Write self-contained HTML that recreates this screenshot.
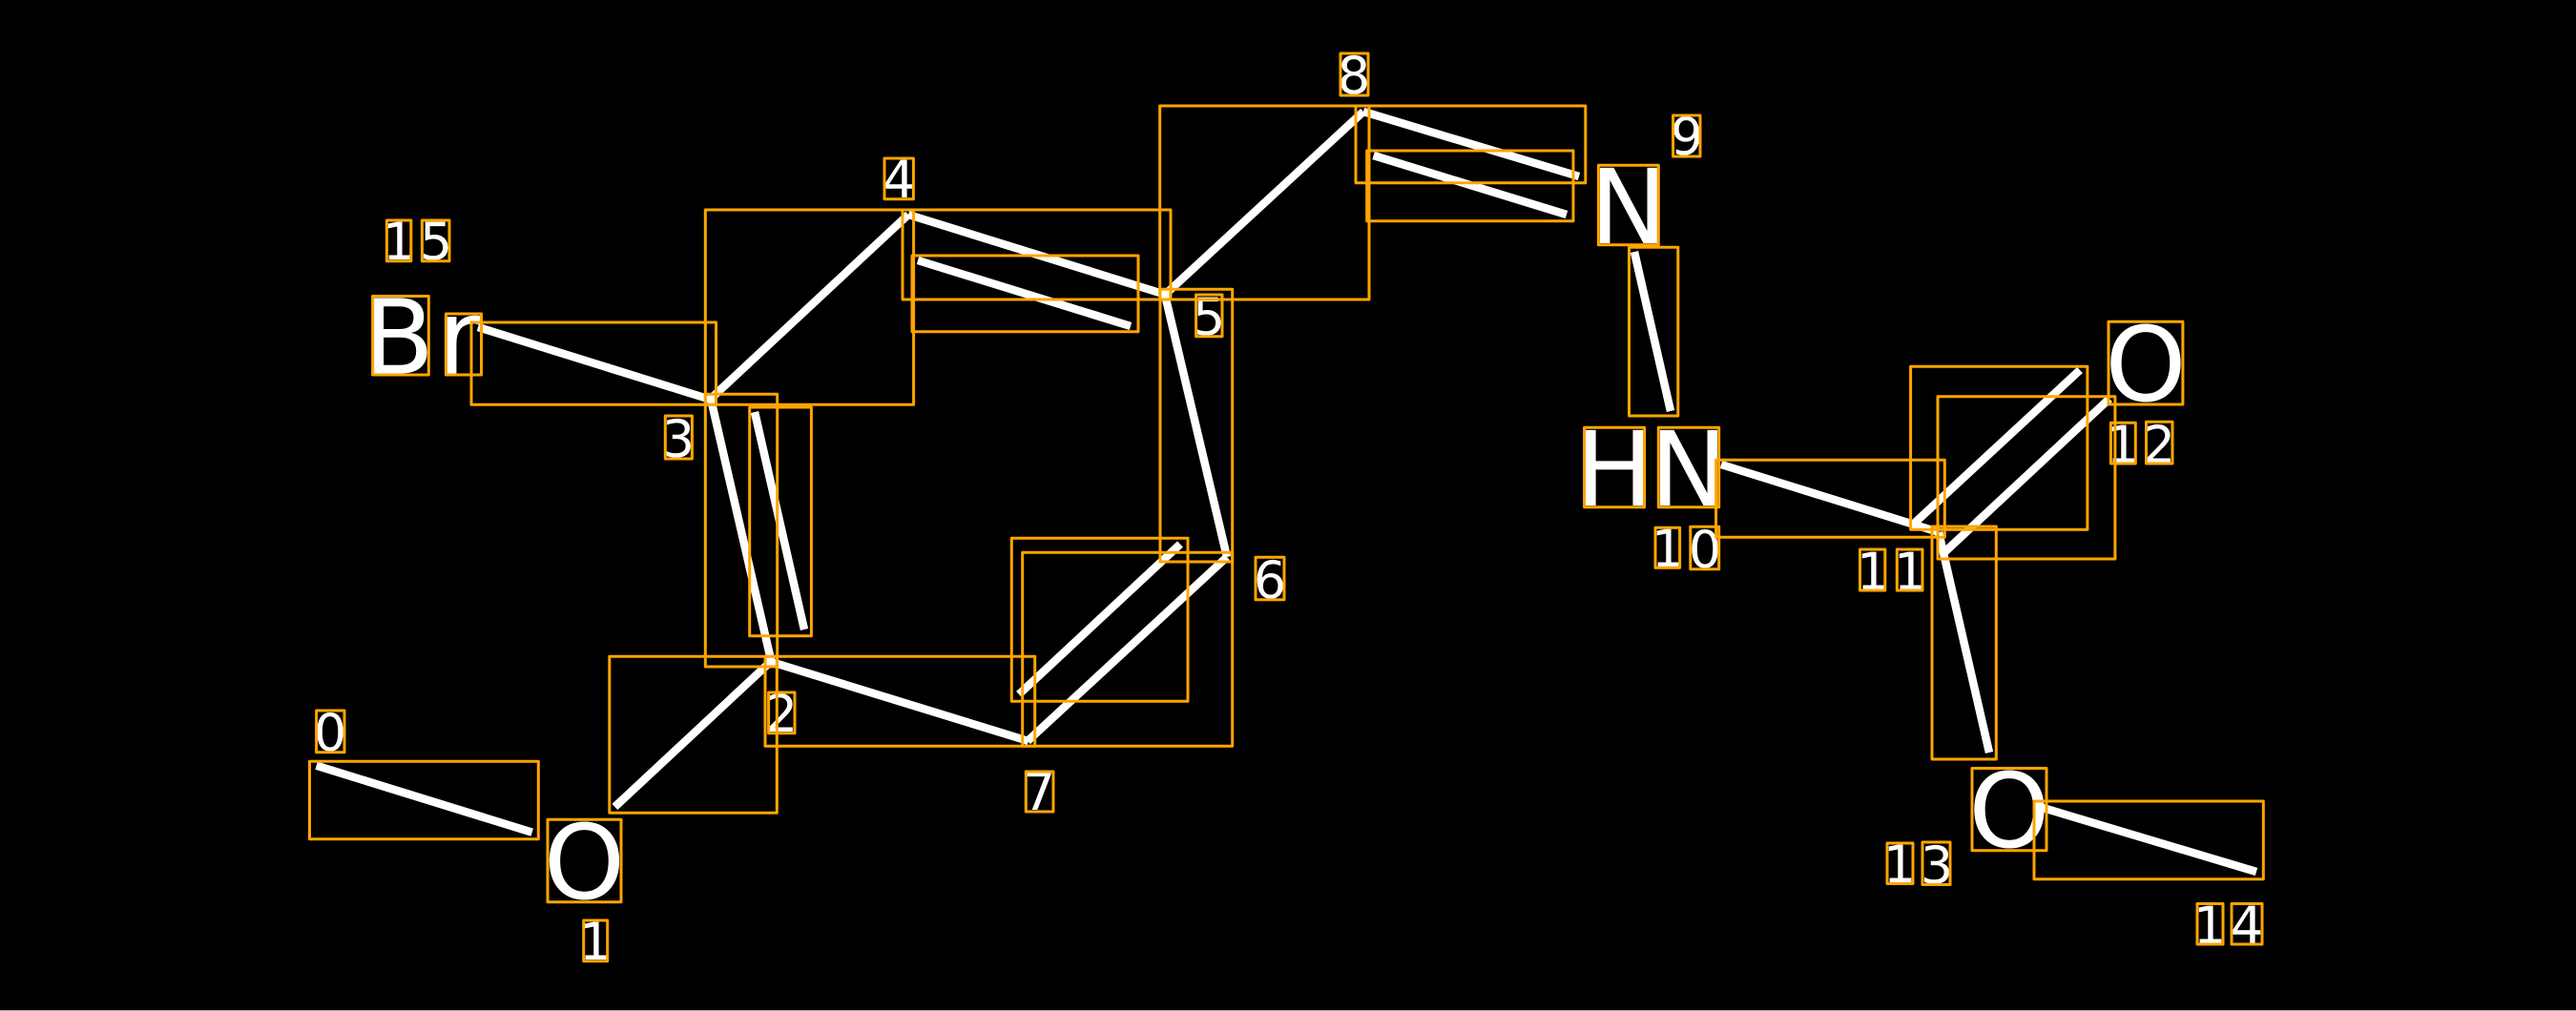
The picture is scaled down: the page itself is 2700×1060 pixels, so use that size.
<!DOCTYPE html>
<html>
<head>
<meta charset="utf-8">
<style>
html,body{margin:0;padding:0;background:#000;width:2700px;height:1060px;overflow:hidden}
svg{display:block}
text{font-family:"DejaVu Sans",sans-serif;fill:#fff;text-anchor:middle;text-rendering:geometricPrecision}
.b{font-size:108.5px}
.s{font-size:54px}
</style>
</head>
<body>
<svg width="2700" height="1060" viewBox="0 0 2700 1060" xmlns="http://www.w3.org/2000/svg">
<rect width="2700" height="1060" fill="#000"/>
<rect x="0" y="1059" width="2700" height="1" fill="#aaa"/>
<g stroke="#fff" stroke-width="8.5" fill="none">
<line x1="331.6" y1="802.7" x2="557.7" y2="872.7"/>
<line x1="644.4" y1="846" x2="808.5" y2="693"/>
<line x1="808.5" y1="694" x2="745" y2="418"/>
<line x1="843" y1="660" x2="791" y2="432"/>
<line x1="745" y1="418" x2="952" y2="225"/>
<line x1="501" y1="343" x2="745" y2="419"/>
<line x1="952" y1="225" x2="1222" y2="309"/>
<line x1="962" y1="273" x2="1185" y2="342"/>
<line x1="1221" y1="309" x2="1429" y2="117"/>
<line x1="1429" y1="117" x2="1655" y2="185"/>
<line x1="1439.6" y1="163" x2="1642" y2="225"/>
<line x1="1221" y1="309" x2="1286" y2="584"/>
<line x1="1286" y1="584" x2="1077" y2="777"/>
<line x1="1068" y1="728" x2="1237" y2="570.5"/>
<line x1="808.5" y1="694" x2="1078" y2="777"/>
<line x1="1713" y1="264" x2="1751" y2="431"/>
<line x1="1804" y1="487" x2="2032" y2="558"/>
<line x1="2036" y1="581" x2="2211" y2="418"/>
<line x1="2006" y1="549" x2="2180" y2="388"/>
<line x1="2032" y1="558" x2="2085" y2="789"/>
<line x1="2138" y1="846" x2="2365" y2="914"/>
</g>
<g>
<text class="b" x="418" y="391.5">B</text>
<text class="b" x="481" y="391.5">r</text>
<text class="b" x="1707" y="255">N</text>
<text class="b" x="1692" y="530">H</text>
<text class="b" x="1770" y="530">N</text>
<text class="b" x="612.5" y="942">O</text>
<text class="b" x="2249" y="420">O</text>
<text class="b" x="2106" y="888">O</text>
<text class="s" x="346" y="787">0</text>
<text class="s" x="624" y="1006">1</text>
<text class="s" x="819" y="767">2</text>
<text class="s" x="711" y="479">3</text>
<text class="s" x="942" y="207">4</text>
<text class="s" x="1267" y="351">5</text>
<text class="s" x="1331" y="627">6</text>
<text class="s" x="1089" y="849">7</text>
<text class="s" x="1419" y="98">8</text>
<text class="s" x="1768" y="162">9</text>
<text class="s" x="1748" y="594">1</text>
<text class="s" x="1787" y="595">0</text>
<text class="s" x="1963" y="618">1</text>
<text class="s" x="2002" y="618">1</text>
<text class="s" x="2225" y="485">1</text>
<text class="s" x="2263" y="485">2</text>
<text class="s" x="1991" y="925">1</text>
<text class="s" x="2030" y="926">3</text>
<text class="s" x="2316" y="989">1</text>
<text class="s" x="2355" y="989">4</text>
<text class="s" x="418" y="272">1</text>
<text class="s" x="457" y="272">5</text>
</g>
<g stroke="#ffa500" stroke-width="3" fill="none" stroke-linejoin="round">
<rect x="324.5" y="798.3" width="239.8" height="81.4"/>
<rect x="638.8" y="688.3" width="175.5" height="164"/>
<rect x="739.3" y="413.3" width="75.4" height="285.7"/>
<rect x="785.7" y="427" width="64.7" height="239.7"/>
<rect x="739.3" y="220" width="218.3" height="204.3"/>
<rect x="494" y="338" width="256.5" height="86.3"/>
<rect x="946" y="220" width="281" height="94"/>
<rect x="956" y="268" width="237" height="79.7"/>
<rect x="1215.7" y="111" width="219.3" height="203"/>
<rect x="1421" y="111" width="240.8" height="80.7"/>
<rect x="1432.7" y="158" width="216.3" height="73.7"/>
<rect x="1216" y="303.3" width="75.7" height="285.7"/>
<rect x="1071.7" y="579.3" width="220" height="203"/>
<rect x="1060.3" y="564.3" width="184.7" height="171"/>
<rect x="802" y="688.3" width="282.7" height="94"/>
<rect x="1707.5" y="259.3" width="51.3" height="176.7"/>
<rect x="1798.6" y="482.3" width="239.7" height="81"/>
<rect x="2031" y="415.7" width="185.9" height="170.3"/>
<rect x="2002.6" y="384.3" width="185.3" height="171"/>
<rect x="2025" y="552" width="67.3" height="244"/>
<rect x="2132" y="840" width="240.3" height="81.8"/>
<rect x="390.6" y="310.5" width="58.7" height="82.5"/>
<rect x="467.4" y="329" width="37.1" height="64"/>
<rect x="1675.4" y="173.3" width="62.9" height="83.4"/>
<rect x="1660.6" y="448.3" width="63" height="83.4"/>
<rect x="1738.3" y="448.3" width="63.4" height="83.4"/>
<rect x="574" y="859.3" width="77" height="86.4"/>
<rect x="2210" y="337.3" width="77.9" height="86.7"/>
<rect x="2067" y="805.5" width="78" height="86.2"/>
<rect x="331.6" y="745" width="29.4" height="43.7"/>
<rect x="611.7" y="965" width="25" height="42.7"/>
<rect x="805.6" y="726" width="27.4" height="42.7"/>
<rect x="697.3" y="436" width="28.1" height="45"/>
<rect x="927" y="166" width="30.4" height="42.7"/>
<rect x="1253.6" y="309" width="27.4" height="43.7"/>
<rect x="1316" y="584.3" width="30" height="44.4"/>
<rect x="1075.3" y="809" width="28.7" height="42"/>
<rect x="1405" y="56" width="29" height="44"/>
<rect x="1753.6" y="121" width="28.4" height="43"/>
<rect x="1735" y="553.3" width="25.6" height="42"/>
<rect x="1771.8" y="552.3" width="29.9" height="44.4"/>
<rect x="1949.5" y="576" width="26.3" height="43"/>
<rect x="1988.3" y="576" width="26.7" height="43"/>
<rect x="2212.4" y="443.3" width="25.9" height="42.7"/>
<rect x="2249.5" y="442.3" width="27.5" height="43.7"/>
<rect x="1978" y="884" width="27" height="42.5"/>
<rect x="2015" y="883" width="29" height="44.5"/>
<rect x="2303" y="947.5" width="27" height="42.5"/>
<rect x="2339" y="947.5" width="32" height="42.5"/>
<rect x="405.4" y="231" width="25.4" height="42.7"/>
<rect x="442.4" y="231" width="28.6" height="42.7"/>
</g>
</svg>
</body>
</html>
